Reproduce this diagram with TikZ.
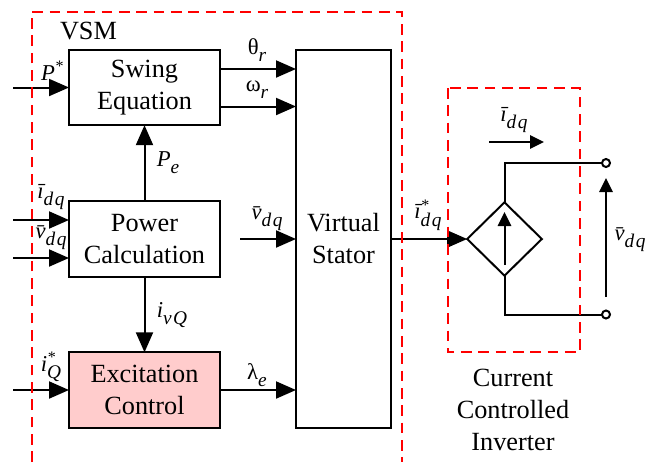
\documentclass[tikz,border=0pt]{standalone}
\usepackage{fontspec}
\setmainfont{Liberation Serif}
\usetikzlibrary{arrows.meta,shapes.geometric,calc}
\newcommand{\lsub}[1]{\raisebox{-0.32em}{\fontsize{14.5}{16}\selectfont\itshape\addfontfeature{LetterSpace=8}#1}}
\newcommand{\lsup}[1]{\raisebox{0.38em}{\fontsize{12}{14}\selectfont #1}}
\newcommand{\barv}{\itshape\=v}
\newcommand{\bari}{\itshape\=\i}
\tikzset{
  block/.style={draw=black,line width=1.5pt,minimum width=113.25pt,minimum height=56.5pt,align=center,inner sep=0pt,outer sep=0pt,font=\fontsize{19.7}{24}\selectfont,execute at begin node={\rule{0pt}{15pt}}},
  flow/.style={draw=black,line width=1.5pt,-{Triangle[length=15pt,width=12.75pt]}},
  smallflow/.style={draw=black,line width=1.5pt,-{Triangle[length=10.5pt,width=10pt]}},
  wire/.style={draw=black,line width=1.5pt},
  region/.style={draw=red,line width=1.5pt,dash pattern=on 8pt off 5pt},
  term/.style={circle,draw=black,fill=white,line width=1.5pt,minimum size=6pt,inner sep=0pt,outer sep=0pt},
  lab/.style={inner sep=0pt,font=\fontsize{17}{20}\selectfont},
  captext/.style={inner sep=0pt,font=\fontsize{19.7}{24}\selectfont,align=center}
}
\begin{document}
\begin{tikzpicture}[x=0.75pt,y=-0.75pt]
\useasboundingbox (0,0) rectangle (657,462);
\node[block] (swing) at (144.5,87.5) {Swing\\Equation};
\node[block] (power) at (144.5,239) {Power\\Calculation};
\node[block,fill={rgb,255:red,255;green,204;blue,204}] (excite) at (144.5,390) {Excitation\\Control};
\node[block,minimum width=71.25pt,minimum height=283.5pt] (stator) at (343.5,239) {Virtual\\Stator};
\node[diamond,draw=black,line width=1.5pt,minimum width=56pt,minimum height=55pt,inner sep=0pt,outer sep=0pt,aspect=1] (source) at (504.5,239) {};
\node[term] (t1) at (606,163) {};
\node[term] (t2) at (606,314.5) {};
% free ends
\coordinate (inP) at (13,87.5);
\coordinate (inI) at (13,220);
\coordinate (inV) at (13,258);
\coordinate (inQ) at (13,390);
\coordinate (inS) at (240,239);
\coordinate (iA) at (489,142);
\coordinate (iB) at (544,142);
\coordinate (vA) at (606,297);
\coordinate (vB) at (606,178);
\coordinate (sA) at (504.5,265);
\coordinate (sB) at (504.5,212);
% connectors
\draw[flow] (inP) -- (swing.west);
\draw[flow] (inI) -- (power.west |- inI);
\draw[flow] (inV) -- (power.west |- inV);
\draw[flow] (inQ) -- (excite.west);
\draw[flow] (power.north) -- (swing.south);
\draw[flow] (power.south) -- (excite.north);
\draw[flow] (swing.east |- 0,69) -- (stator.west |- 0,69);
\draw[flow] (swing.east |- 0,106.5) -- (stator.west |- 0,106.5);
\draw[flow] (inS) -- (stator.west);
\draw[flow] (excite.east) -- (stator.west |- excite.east);
\draw[flow] (stator.east) -- (source.west);
\draw[wire] (source.north) -- (source.north |- t1) -- (t1.west);
\draw[wire] (source.south) -- (source.south |- t2) -- (t2.west);
\draw[smallflow] (sA) -- (sB);
\draw[smallflow] (iA) -- (iB);
\draw[smallflow] (vA) -- (vB);
% dashed regions
\coordinate (r1) at (31.5,462);
\coordinate (r2) at (31.5,12);
\coordinate (r3) at (401.5,12);
\coordinate (r4) at (401.5,462);
\draw[region] (r1) -- (r2) -- (r3) -- (r4);
\coordinate (c1) at (447.5,88);
\coordinate (c2) at (580,352);
\draw[region] (c1) rectangle (c2);
% labels
\node[inner sep=0pt,font=\fontsize{19.7}{24}\selectfont] (vsm) at (88.5,31) {VSM};
\node[lab] (lP) at (52,71) {\itshape P\lsup{*}};
\node[lab] (lI) at (51,197) {\bari\lsub{dq}};
\node[lab] (lV) at (51,238) {\barv\lsub{dq}};
\node[lab] (lQ) at (51,367) {\itshape i\rlap{\raisebox{0.38em}{\fontsize{12}{14}\selectfont *}}\lsub{Q}};
\node[lab] (lPe) at (168,163) {\itshape P\lsub{e}};
\node[lab] (lQv) at (172,315) {\itshape i\lsub{vQ}};
\node[lab] (lT) at (257,50) {θ\lsub{r}};
\node[lab] (lW) at (257,90) {ω\lsub{r}};
\node[lab] (lL) at (257,375) {λ\lsub{e}};
\node[lab] (lVm) at (267,219) {\barv\lsub{dq}};
\node[lab] (lIs) at (428,215) {\bari\rlap{\raisebox{0.38em}{\fontsize{12}{14}\selectfont *}}\lsub{dq}};
\node[lab] (lIo) at (514,120) {\bari\lsub{dq}};
\node[lab] (lVo) at (630,240) {\barv\lsub{dq}};
\node[captext] (capt) at (513,410) {Current\\Controlled\\Inverter};
\end{tikzpicture}
\end{document}
